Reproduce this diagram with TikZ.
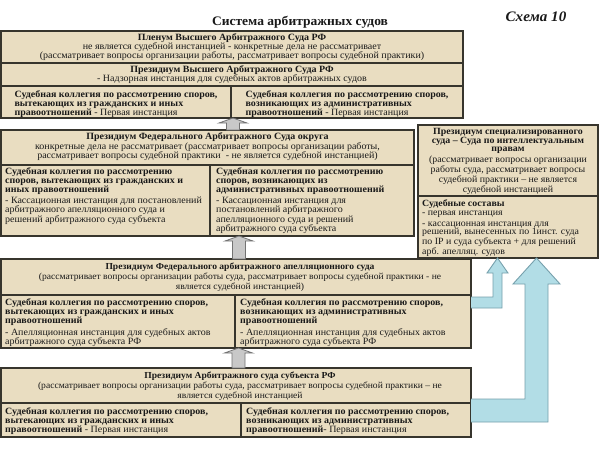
\documentclass[tikz,border=0pt]{standalone}
\usepackage{fontspec}
\setmainfont{Liberation Serif}[FakeStretch=1.04]
\usetikzlibrary{calc}
\definecolor{beige}{RGB}{233,221,193}
\definecolor{bord}{RGB}{55,53,45}
\definecolor{txt}{RGB}{25,25,25}
\definecolor{arrgray}{RGB}{200,200,200}
\definecolor{arrgrayd}{RGB}{115,115,115}
\definecolor{arrblue}{RGB}{178,221,230}
\definecolor{arrblued}{RGB}{118,160,172}
\newcommand\fsz{\fontsize{9.6}{9.2}\selectfont}
\newcommand\fszh{\fontsize{9.2}{9.6}\selectfont}
\newcommand\fszr{\fontsize{9.5}{8.5}\selectfont}
\newcommand\grayup[2]{%
  \draw[garrow] let \p1=(#1), \p2=(#2) in
    (\x1-6.5pt,\y2) -- (\x1-6.5pt,\y1-5pt) -- (\x1-14pt,\y1-5pt) -- (\x1,\y1)
    -- (\x1+14pt,\y1-5pt) -- (\x1+6.5pt,\y1-5pt) -- (\x1+6.5pt,\y2) -- cycle;}
% #1 tip, #2 foot, #3 shaft half width, #4 head half width, #5 head length, #6 band height
\newcommand\blueL[6]{%
  \fill[arrblue] let \p1=(#1), \p2=(#2) in
    (\x2,\y2) -- (\x1-#3,\y2) -- (\x1-#3,\y1-#5) -- (\x1-#4,\y1-#5) -- (\x1,\y1)
    -- (\x1+#4,\y1-#5) -- (\x1+#3,\y1-#5) -- (\x1+#3,\y2-#6) -- (\x2,\y2-#6) -- cycle;
  \draw[barrowline] let \p1=(#1), \p2=(#2) in
    (\x2,\y2) -- (\x1-#3,\y2) -- (\x1-#3,\y1-#5) -- (\x1-#4,\y1-#5) -- (\x1,\y1)
    -- (\x1+#4,\y1-#5) -- (\x1+#3,\y1-#5) -- (\x1+#3,\y2-#6) -- (\x2,\y2-#6);}
\begin{document}
\begin{tikzpicture}[x=1pt,y=-1pt,
  cell/.style={draw=bord, fill=beige, line width=1.2pt, inner sep=0pt, outer sep=0pt, anchor=north west},
  ctext/.style={inner sep=0pt, anchor=north, align=center, font=\fsz, text=txt},
  ltext/.style={inner sep=0pt, anchor=north west, align=left, font=\fsz, text=txt},
  garrow/.style={draw=arrgrayd, fill=arrgray, line width=0.8pt, line join=miter},
  barrowline/.style={draw=arrblued, line width=0.9pt, line join=miter}
]
\useasboundingbox (0,0) rectangle (600,448);
\fill[white] (0,0) rectangle (600,448);

% titles
\node[inner sep=0pt, font=\fontsize{13}{13}\selectfont\bfseries, text=txt] (title) at (300,22) {Система арбитражных судов};
\node[inner sep=0pt, font=\fontsize{14.5}{14.5}\selectfont\bfseries\itshape, text=txt] (schema) at (536,17) {Схема 10};

% block 1
\node[cell, minimum width=462pt, minimum height=32pt] (b1p) at (1,31) {};
\node[cell, minimum width=462pt, minimum height=23pt] (b1s) at (1,63) {};
\node[cell, minimum width=230pt, minimum height=32pt] (b1l) at (1,86) {};
\node[cell, minimum width=232pt, minimum height=32pt] (b1r) at (231,86) {};
\node[ctext] (t1p) at ($(b1p.north)+(0,2.5)$) {\textbf{Пленум Высшего Арбитражного Суда РФ}\\
  не является судебной инстанцией - конкретные дела не рассматривает\\
  (рассматривает вопросы организации работы, рассматривает вопросы судебной практики)};
\node[ctext] (t1s) at ($(b1s.north)+(0,2.5)$) {\textbf{Президиум Высшего Арбитражного Суда РФ}\\
  - Надзорная инстанция для судебных актов арбитражных судов};
\node[ctext, align=left] (t1l) at ($(b1l.north)+(0,4)$) {\textbf{Судебная коллегия по рассмотрению споров,}\\
  \textbf{вытекающих из гражданских и иных}\\
  \textbf{правоотношений} - Первая инстанция};
\node[ctext, align=left] (t1r) at ($(b1r.north)+(0,4)$) {\textbf{Судебная коллегия по рассмотрению споров,}\\
  \textbf{возникающих из административных}\\
  \textbf{правоотношений} - Первая инстанция};

% block 2
\node[cell, minimum width=413pt, minimum height=35pt] (b2h) at (1,130) {};
\node[cell, minimum width=209pt, minimum height=71pt] (b2l) at (1,165) {};
\node[cell, minimum width=204pt, minimum height=71pt] (b2r) at (210,165) {};
\node[ctext] (t2h) at ($(b2h.north)+(0,2.5)$) {\textbf{Президиум Федерального Арбитражного Суда округа}\\[1pt]
  конкретные дела не рассматривает (рассматривает вопросы организации работы,\\
  рассматривает вопросы судебной практики \ - не является судебной инстанцией)};
\node[ltext] (t2l) at ($(b2l.north west)+(4,2.5)$) {\textbf{Судебная коллегия по рассмотрению}\\
  \textbf{споров, вытекающих из гражданских и}\\
  \textbf{иных правоотношений}\\[1.5pt]
  - Кассационная инстанция для постановлений\\
  арбитражного апелляционного суда и\\
  решений арбитражного суда субъекта};
\node[ltext] (t2r) at ($(b2r.north west)+(6,2.5)$) {\textbf{Судебная коллегия по рассмотрению}\\
  \textbf{споров, возникающих из}\\
  \textbf{административных правоотношений}\\[1.5pt]
  - Кассационная инстанция для\\
  постановлений арбитражного\\
  апелляционного суда и решений\\
  арбитражного суда субъекта};

% block 3
\node[cell, minimum width=470pt, minimum height=36pt] (b3h) at (1,259) {};
\node[cell, minimum width=234pt, minimum height=53pt] (b3l) at (1,295) {};
\node[cell, minimum width=236pt, minimum height=53pt] (b3r) at (235,295) {};
\node[ctext, font=\fszh] (t3h) at ($(b3h.north)+(4,4)$) {\textbf{Президиум Федерального арбитражного апелляционного суда}\\[0.5pt]
  (рассматривает вопросы организации работы суда, рассматривает вопросы судебной практики - не\\
  является судебной инстанцией)};
\node[ltext] (t3l) at ($(b3l.north west)+(4,3.5)$) {\textbf{Судебная коллегия по рассмотрению споров,}\\
  \textbf{вытекающих из гражданских и иных}\\
  \textbf{правоотношений}\\[2pt]
  - Апелляционная инстанция для судебных актов\\
  арбитражного суда субъекта РФ};
\node[ltext] (t3r) at ($(b3r.north west)+(5,3.5)$) {\textbf{Судебная коллегия по рассмотрению споров,}\\
  \textbf{возникающих из административных}\\
  \textbf{правоотношений}\\[2pt]
  - Апелляционная инстанция для судебных актов\\
  арбитражного суда субъекта РФ};

% block 4
\node[cell, minimum width=470pt, minimum height=35pt] (b4h) at (1,368) {};
\node[cell, minimum width=240pt, minimum height=34pt] (b4l) at (1,403) {};
\node[cell, minimum width=230pt, minimum height=34pt] (b4r) at (241,403) {};
\node[ctext, font=\fszh] (t4h) at ($(b4h.north)+(4,4)$) {\textbf{Президиум Арбитражного суда субъекта РФ}\\[0.5pt]
  (рассматривает вопросы организации работы суда, рассматривает вопросы судебной практики – не\\
  является судебной инстанцией};
\node[ltext] (t4l) at ($(b4l.north west)+(4,4)$) {\textbf{Судебная коллегия по рассмотрению споров,}\\
  \textbf{вытекающих из гражданских и иных}\\
  \textbf{правоотношений} - Первая инстанция};
\node[ltext] (t4r) at ($(b4r.north west)+(5,4)$) {\textbf{Судебная коллегия по рассмотрению споров,}\\
  \textbf{возникающих из административных}\\
  \textbf{правоотношений}- Первая инстанция};

% right block
\node[cell, minimum width=180pt, minimum height=71pt] (rh) at (418,125) {};
\node[cell, minimum width=180pt, minimum height=62pt] (rl) at (418,196) {};
\node[ctext, font=\fszr] (trh) at ($(rh.north)+(0,3.5)$) {\textbf{Президиум специализированного}\\
  \textbf{суда – Суда по интеллектуальным}\\
  \textbf{правам}\\[1pt]
  (рассматривает вопросы организации\\
  работы суда, рассматривает вопросы\\
  судебной практики – не является\\
  судебной инстанцией};
\node[ltext, font=\fszr] (trl) at ($(rl.north west)+(4,3)$) {\textbf{Судебные составы}\\[1pt]
  - первая инстанция\\[2pt]
  - кассационная инстанция для\\
  решений, вынесенных по 1инст. суда\\
  по IP и суда субъекта + для решений\\
  арб. апелляц. судов};

% gray arrows
\coordinate (g1tip) at ($(b1l.south east)+(2,0)$);
\coordinate (g1tail) at (g1tip |- b2h.north);
\grayup{g1tip}{g1tail}
\coordinate (g2tip) at ($(b2l.south west)+(238,0)$);
\coordinate (g2tail) at (g2tip |- b3h.north);
\grayup{g2tip}{g2tail}
\coordinate (g3tip) at ($(b3l.south west)+(237.5,0)$);
\coordinate (g3tail) at (g3tip |- b4h.north);
\grayup{g3tip}{g3tail}

% blue arrows
\coordinate (stip) at ($(rl.south west)+(79.5,0)$);
\coordinate (sfoot) at ($(b3r.north east)+(0,2)$);
\blueL{stip}{sfoot}{4.5pt}{10.5pt}{15pt}{11pt}
\coordinate (btip) at ($(rl.south west)+(118.5,0)$);
\coordinate (bfoot) at ($(b4r.north east)+(0,-4)$);
\blueL{btip}{bfoot}{11.5pt}{23.5pt}{26pt}{23pt}
\end{tikzpicture}
\end{document}
